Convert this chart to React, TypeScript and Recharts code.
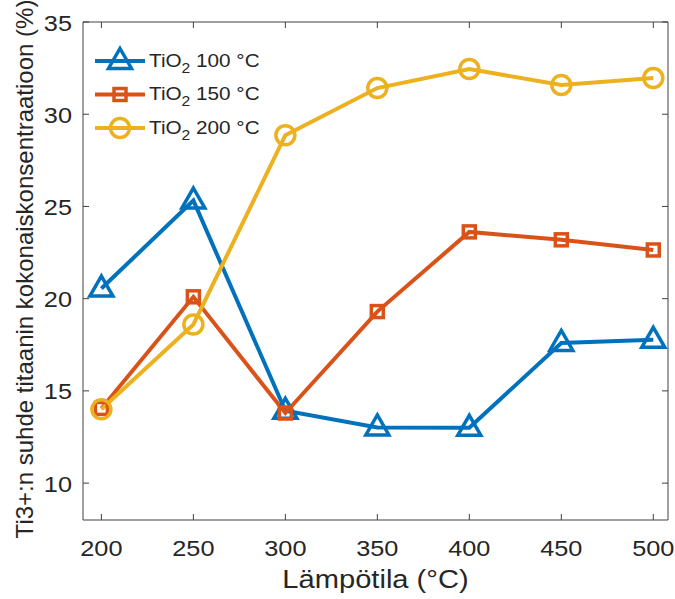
import { LineChart, Line, XAxis, YAxis, Legend } from 'recharts'

const TEMPS = [200, 250, 300, 350, 400, 450, 500]
const TIO2_100 = [20.55, 25.32, 13.92, 13.02, 13.0, 17.6, 17.77]
const TIO2_150 = [14.05, 20.1, 13.8, 19.3, 23.62, 23.19, 22.64]
const TIO2_200 = [14.0, 18.6, 28.86, 31.42, 32.45, 31.58, 31.96]
const X_TICKS = [200, 250, 300, 350, 400, 450, 500]
const Y_TICKS = [10, 15, 20, 25, 30, 35]
const LEGEND_NAMES = ['100 °C', '150 °C', '200 °C']

const BLUE = '#0072BD'
const ORANGE = '#D95319'
const YELLOW = '#EDB120'
const AXIS = '#404040'
const TXT = '#262626'
const FONT = '"Liberation Sans", Arial, Helvetica, sans-serif'

const data = TEMPS.map((t, i) => ({
  t,
  a: TIO2_100[i],
  b: TIO2_150[i],
  c: TIO2_200[i],
}))

// marker shapes (MATLAB style: ^, s, o)
const triangle = (cx: number, cy: number, color: string, key?: any) => (
  <path
    key={key}
    d={`M${cx},${cy - 12.5}L${cx + 11.5},${cy + 7.5}L${cx - 11.5},${cy + 7.5}Z`}
    fill="none"
    stroke={color}
    strokeWidth={3.5}
  />
)
const square = (cx: number, cy: number, color: string, key?: any) => (
  <rect key={key} x={cx - 6} y={cy - 6} width={12} height={12} fill="none" stroke={color} strokeWidth={3.5} />
)
const circle = (cx: number, cy: number, color: string, key?: any) => (
  <circle key={key} cx={cx} cy={cy} r={9.5} fill="none" stroke={color} strokeWidth={3.5} />
)
const MARKERS = [triangle, square, circle]
const COLORS = [BLUE, ORANGE, YELLOW]

const XTick = ({ x, y, payload }: any) => (
  <g>
    <line x1={x} y1={y} x2={x} y2={y - 6} stroke={AXIS} />
    <text
      transform={`translate(${x},${y + 36}) scale(1.15,1)`}
      textAnchor="middle"
      fontSize={22}
      fontFamily={FONT}
      fill={TXT}
    >
      {payload.value}
    </text>
  </g>
)

const YTick = ({ x, y, payload }: any) => (
  <g>
    <line x1={x} y1={y} x2={x + 6} y2={y} stroke={AXIS} />
    <text
      transform={`translate(${x - 11},${y + 8.5}) scale(1.15,1)`}
      textAnchor="end"
      fontSize={22}
      fontFamily={FONT}
      fill={TXT}
    >
      {payload.value}
    </text>
  </g>
)

const TopTick = ({ x, y }: any) => <line x1={x} y1={y} x2={x} y2={y + 6} stroke={AXIS} />
const RightTick = ({ x, y }: any) => <line x1={x} y1={y} x2={x - 6} y2={y} stroke={AXIS} />

const XLabel = ({ viewBox }: any) => (
  <text
    transform={`translate(${viewBox.x + viewBox.width / 2},${viewBox.y + 68}) scale(1.12,1)`}
    textAnchor="middle"
    fontSize={26}
    fontFamily={FONT}
    fill={TXT}
  >
    Lämpötila (°C)
  </text>
)

const YLabel = () => (
  <text
    transform="translate(33,269) rotate(-90)"
    textAnchor="middle"
    fontSize={24}
    fontFamily={FONT}
    fill={TXT}
  >
    Ti3+:n suhde titaanin kokonaiskonsentraatioon (%)
  </text>
)

const LegendBox = () => (
  <svg width={300} height={150} style={{ display: 'block' }}>
    {LEGEND_NAMES.map((name, i) => {
      const y = 61 + i * 33.5
      return (
        <g key={name}>
          <line x1={95} y1={y} x2={145} y2={y} stroke={COLORS[i]} strokeWidth={4} />
          {MARKERS[i](120, y, COLORS[i])}
          <text
            transform={`translate(149,${y + 5.5}) scale(1.12,1)`}
            fontSize={18.5}
            fontFamily={FONT}
            fill={TXT}
          >
            TiO
            <tspan fontSize={14} dy={6}>2</tspan>
            <tspan dy={-6}> {name}</tspan>
          </text>
        </g>
      )
    })}
  </svg>
)

const makeDot = (i: number) => (p: any) => MARKERS[i](p.cx, p.cy, COLORS[i], `d${i}-${p.index}`)

export default function App() {
  return (
    <div style={{ position: 'absolute', left: 0, top: 0, background: '#fff' }}>
      <LineChart width={675} height={599} data={data} margin={{ top: 21, right: 6, bottom: 0, left: 0 }}>
        <XAxis
          dataKey="t"
          type="number"
          domain={[190, 508]}
          ticks={X_TICKS}
          height={79}
          axisLine={{ stroke: AXIS }}
          tickLine={false}
          tickSize={0}
          tickMargin={0}
          tick={<XTick />}
          label={<XLabel />}
        />
        <XAxis
          xAxisId="top"
          dataKey="t"
          orientation="top"
          type="number"
          domain={[190, 508]}
          ticks={X_TICKS}
          height={1}
          axisLine={{ stroke: AXIS }}
          tickLine={false}
          tickSize={0}
          tickMargin={0}
          tick={<TopTick />}
        />
        <YAxis
          type="number"
          domain={[8, 35]}
          ticks={Y_TICKS}
          width={83}
          axisLine={{ stroke: AXIS }}
          tickLine={false}
          tickSize={0}
          tickMargin={0}
          tick={<YTick />}
          label={<YLabel />}
        />
        <YAxis
          yAxisId="right"
          orientation="right"
          type="number"
          domain={[8, 35]}
          ticks={Y_TICKS}
          width={1}
          axisLine={{ stroke: AXIS }}
          tickLine={false}
          tickSize={0}
          tickMargin={0}
          tick={<RightTick />}
        />
        <Legend
          verticalAlign="middle"
          align="center"
          wrapperStyle={{ left: 0, top: 0, width: 300, height: 150 }}
          content={<LegendBox />}
        />
        <Line dataKey="a" stroke={BLUE} strokeWidth={4} dot={makeDot(0)} isAnimationActive={false} />
        <Line dataKey="b" stroke={ORANGE} strokeWidth={4} dot={makeDot(1)} isAnimationActive={false} />
        <Line dataKey="c" stroke={YELLOW} strokeWidth={4} dot={makeDot(2)} isAnimationActive={false} />
        {/* invisible series so the box axes (top/right) are drawn */}
        <Line
          xAxisId="top"
          yAxisId="right"
          dataKey="c"
          stroke="none"
          dot={false}
          activeDot={false}
          legendType="none"
          isAnimationActive={false}
        />
      </LineChart>
    </div>
  )
}
